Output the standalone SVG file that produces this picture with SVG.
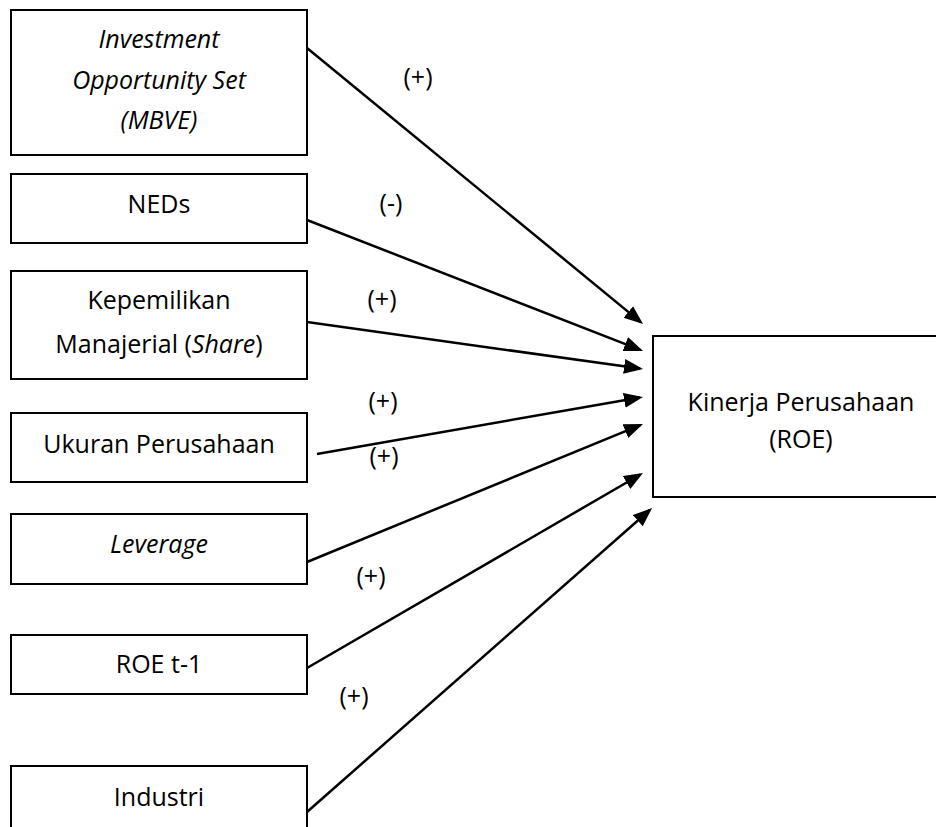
<svg xmlns="http://www.w3.org/2000/svg" width="936" height="827" viewBox="0 0 936 827">
<style>
.box{fill:#fff;stroke:#000;stroke-width:2}
.t{font-family:"Open Sans","Liberation Sans",sans-serif;font-size:25px;fill:#000;text-anchor:middle}
.i{font-style:italic}
.c{stroke:#000;stroke-width:2.5;fill:none;marker-end:url(#ah)}
</style>
<defs>
<marker id="ah" markerUnits="userSpaceOnUse" markerWidth="20" markerHeight="16" refX="16" refY="7.5" orient="auto">
<path d="M0,0 L19,7.5 L0,15 z" fill="#000"/>
</marker>
</defs>
<rect width="936" height="827" fill="#fff"/>
<g id="n-ios">
<rect class="box" x="11" y="10" width="296" height="145"/>
<text class="t i" x="159" y="48">Investment</text>
<text class="t i" x="159" y="89">Opportunity Set</text>
<text class="t i" x="159" y="129">(MBVE)</text>
</g>
<g id="n-neds">
<rect class="box" x="11" y="174" width="296" height="69"/>
<text class="t" x="159" y="213">NEDs</text>
</g>
<g id="n-share">
<rect class="box" x="11" y="271" width="296" height="108"/>
<text class="t" x="159" y="309">Kepemilikan</text>
<text class="t" x="159" y="353">Manajerial (<tspan class="i">Share</tspan>)</text>
</g>
<g id="n-size">
<rect class="box" x="11" y="413" width="296" height="69"/>
<text class="t" x="159" y="453">Ukuran Perusahaan</text>
</g>
<g id="n-lev">
<rect class="box" x="11" y="514" width="296" height="70"/>
<text class="t i" x="159" y="553">Leverage</text>
</g>
<g id="n-roe1">
<rect class="box" x="11" y="635" width="296" height="59"/>
<text class="t" x="159" y="673">ROE t-1</text>
</g>
<g id="n-ind">
<rect class="box" x="11" y="766" width="296" height="80"/>
<text class="t" x="159" y="806">Industri</text>
</g>
<g id="n-roe">
<rect class="box" x="653" y="336" width="300" height="161"/>
<text class="t" x="801" y="411">Kinerja Perusahaan</text>
<text class="t" x="801" y="448">(ROE)</text>
</g>
<g id="connectors">
<line class="c" x1="307" y1="48" x2="640.7" y2="322.1"/>
<line class="c" x1="307" y1="220" x2="640.2" y2="349.9"/>
<line class="c" x1="307" y1="322" x2="640" y2="368.6"/>
<line class="c" x1="317" y1="454" x2="640" y2="397.5"/>
<line class="c" x1="307" y1="562" x2="640.2" y2="425.1"/>
<line class="c" x1="307" y1="668" x2="640.4" y2="474.5"/>
<line class="c" x1="307" y1="812" x2="649.8" y2="510"/>
<text class="t" x="418" y="86">(+)</text>
<text class="t" x="391" y="212">(-)</text>
<text class="t" x="382" y="308">(+)</text>
<text class="t" x="383" y="410">(+)</text>
<text class="t" x="384" y="465">(+)</text>
<text class="t" x="371" y="585">(+)</text>
<text class="t" x="354" y="705">(+)</text>
</g>
</svg>
